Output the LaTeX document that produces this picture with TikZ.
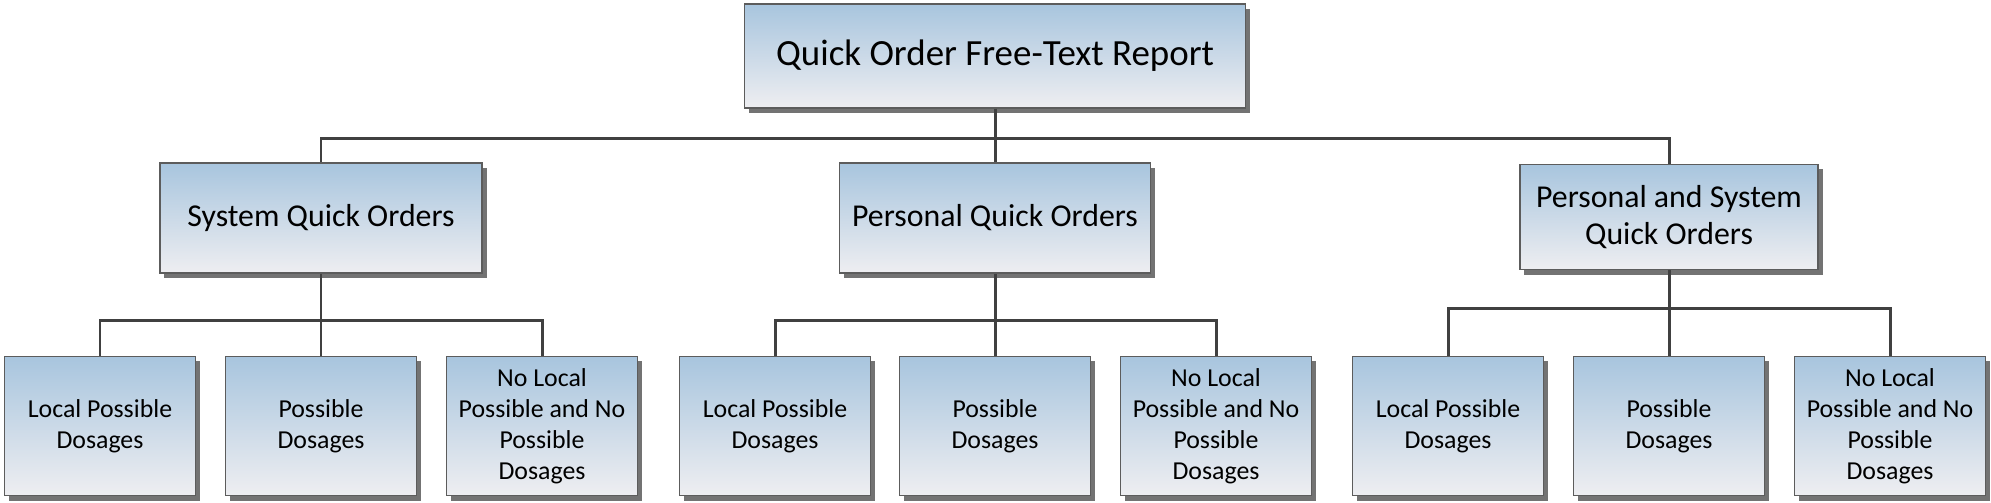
\documentclass[tikz,border=0pt]{standalone}
\usepackage{fontspec}
\setmainfont{Carlito}
\usetikzlibrary{positioning,calc,shadows}

\definecolor{boxtop}{HTML}{A8C5DE}
\definecolor{boxbot}{HTML}{EEEEF1}
\definecolor{boxline}{HTML}{5C5C5C}
\definecolor{linkgray}{HTML}{404040}

\begin{document}
\begin{tikzpicture}[
    x=0.01cm, y=-0.01cm,
    box/.style={rectangle, draw=boxline, line width=0.4pt,
        top color=boxtop, bottom color=boxbot, align=center, inner sep=1pt,
        copy shadow={shadow xshift=0.45mm, shadow yshift=-0.5mm,
            fill=black!55, draw=none}},
    topbox/.style={box, minimum width=5.01cm, minimum height=1.04cm,
        font=\fontsize{10.5}{12.6}\selectfont},
    midbox/.style={box, minimum height=1.1cm,
        font=\fontsize{9.05}{10.45}\selectfont},
    leafbox/.style={box, minimum width=1.91cm, minimum height=1.39cm,
        font=\fontsize{7.35}{8.8}\selectfont},
    link/.style={draw=linkgray, line width=0.85pt}
]

\useasboundingbox (0,0) rectangle (1991,502);

%======================
% Coordinates
%======================

\def\LY{426}

\coordinate (busTop)  at (995,138);
\coordinate (busSys)  at (321,320);
\coordinate (busPers) at (995,320);
\coordinate (busBoth) at (1669,308);

%======================
% Report and order types
%======================

\node[topbox] (report) at (995,56) {Quick Order Free-Text Report};

\node[midbox, minimum width=3.22cm] (sys)  at (321,218) {System Quick Orders};
\node[midbox, minimum width=3.11cm] (pers) at (995,218) {Personal Quick Orders};
\node[midbox, minimum width=2.98cm, minimum height=1.05cm] (both)
  at (1669,217) {Personal and System\\Quick Orders};

%======================
% Dosage boxes
%======================

% under System
\node[leafbox] (sysLocal) at (100,\LY)   {Local Possible\\Dosages};
\node[leafbox] (sysPoss)  at (321,\LY)   {Possible\\Dosages};
\node[leafbox] (sysNone)  at (542,\LY)   {No Local\\Possible and No\\Possible\\Dosages};

% under Personal
\node[leafbox] (persLocal) at (775,\LY)  {Local Possible\\Dosages};
\node[leafbox] (persPoss)  at (995,\LY)  {Possible\\Dosages};
\node[leafbox] (persNone)  at (1216,\LY) {No Local\\Possible and No\\Possible\\Dosages};

% under Personal and System
\node[leafbox] (bothLocal) at (1448,\LY) {Local Possible\\Dosages};
\node[leafbox] (bothPoss)  at (1669,\LY) {Possible\\Dosages};
\node[leafbox] (bothNone)  at (1890,\LY) {No Local\\Possible and No\\Possible\\Dosages};

%======================
% Connectors
%======================

\draw[link] (report.south) -- (busTop);
\draw[link] (busTop) -| (sys.north);
\draw[link] (busTop) -- (pers.north);
\draw[link] (busTop) -| (both.north);

\draw[link] (sys.south) -- (busSys);
\draw[link] (busSys) -| (sysLocal.north);
\draw[link] (busSys) -- (sysPoss.north);
\draw[link] (busSys) -| (sysNone.north);

\draw[link] (pers.south) -- (busPers);
\draw[link] (busPers) -| (persLocal.north);
\draw[link] (busPers) -- (persPoss.north);
\draw[link] (busPers) -| (persNone.north);

\draw[link] (both.south) -- (busBoth);
\draw[link] (busBoth) -| (bothLocal.north);
\draw[link] (busBoth) -- (bothPoss.north);
\draw[link] (busBoth) -| (bothNone.north);

\end{tikzpicture}
\end{document}
